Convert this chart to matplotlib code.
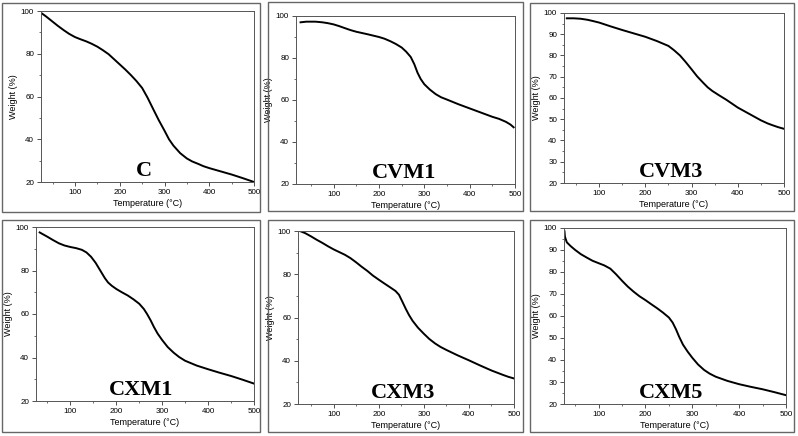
import matplotlib
matplotlib.use('Agg')
import matplotlib.pyplot as plt
from matplotlib.patches import Rectangle
from matplotlib.ticker import MultipleLocator

plt.rcParams['font.family'] = ['Liberation Sans', 'DejaVu Sans']

# sample names
names = ['C', 'CVM1', 'CVM3', 'CXM1', 'CXM3', 'CXM5']

# temperature (C) and weight (%)
c_t = [25, 35, 50, 62, 75, 87, 100, 112, 125, 137, 150, 162, 175, 187, 200, 212, 225, 237,
       250, 262, 275, 287, 300, 310, 320, 335, 350, 362, 375, 387, 400, 425, 450, 475, 500]
c_w = [99, 97.5, 95, 93, 91, 89.3, 87.8, 86.8, 85.8, 84.7, 83.3, 81.7, 79.8, 77.5, 75, 72.7, 70, 67.3,
       64, 59.5, 54, 49, 44, 40, 37, 33.5, 31, 29.6, 28.5, 27.4, 26.5, 25, 23.5, 21.8, 20]

cvm1_t = [27, 40, 60, 75, 87, 100, 112, 125, 137, 150, 175, 200, 212, 225, 237, 250, 260, 270,
          278, 285, 292, 300, 312, 325, 337, 350, 375, 400, 425, 450, 465, 480, 490, 497]
cvm1_w = [97, 97.3, 97.3, 97, 96.6, 96, 95.2, 94.2, 93.3, 92.5, 91.3, 90, 89.2, 88, 86.7, 85, 83, 80.5,
          77, 73, 70, 67.5, 65, 62.8, 61.3, 60.2, 58, 56, 54, 52, 51, 49.6, 48.3, 47]

cvm3_t = [30, 45, 60, 75, 87, 100, 125, 150, 175, 200, 225, 250, 262, 275, 287, 300, 312, 325,
          335, 345, 360, 375, 400, 425, 450, 465, 475, 487, 500]
cvm3_w = [97.5, 97.5, 97.3, 96.8, 96.2, 95.5, 93.7, 92, 90.4, 88.8, 86.8, 84.5, 82.5, 80, 77, 73.5, 70.2, 67.2,
          65, 63.3, 61.2, 59.2, 55.5, 52.5, 49.5, 48, 47.2, 46.3, 45.5]

cxm1_t = [33, 50, 62, 75, 87, 100, 112, 125, 135, 145, 155, 165, 175, 182, 190, 200, 212, 225, 237,
          250, 260, 267, 275, 282, 290, 300, 312, 325, 337, 350, 375, 400, 425, 450, 475, 500]
cxm1_w = [97.5, 95.5, 94, 92.5, 91.5, 90.8, 90.3, 89.5, 88.3, 86.3, 83.5, 80, 76.5, 74.5, 73, 71.5, 70, 68.5, 66.8,
          64.7, 62.3, 60, 57, 54, 51, 48, 44.8, 42.2, 40.2, 38.5, 36.3, 34.6, 33, 31.5, 29.8, 28]

cxm3_t = [25, 37, 50, 62, 75, 87, 100, 112, 125, 137, 150, 162, 175, 187, 200, 212, 225, 237, 245,
          252, 260, 267, 275, 287, 300, 312, 325, 337, 350, 375, 400, 425, 450, 465, 475, 487, 500]
cxm3_w = [100, 99, 97.5, 96, 94.5, 93, 91.5, 90.3, 89, 87.5, 85.5, 83.5, 81.5, 79.4, 77.5, 75.8, 74, 72.3, 70.5,
          67.5, 64, 61.2, 58.5, 55.3, 52.5, 50.1, 48, 46.4, 45, 42.5, 40.2, 37.8, 35.5, 34.3, 33.5, 32.6, 31.8]

cxm5_t = [27, 28, 32, 40, 50, 62, 75, 87, 100, 112, 125, 137, 150, 162, 175, 187, 200, 212, 225, 237,
          250, 258, 265, 272, 280, 290, 300, 312, 325, 337, 350, 375, 400, 425, 450, 475, 500]
cxm5_w = [98.5, 96, 93.5, 91.8, 90, 88.1, 86.5, 85.1, 84, 83, 81.5, 79, 76, 73.4, 71, 69, 67.2, 65.4, 63.5, 61.6,
          59.3, 57, 54, 50.5, 47, 43.8, 41, 38, 35.5, 33.8, 32.4, 30.5, 29, 27.8, 26.7, 25.4, 24]

temps = [c_t, cvm1_t, cvm3_t, cxm1_t, cxm3_t, cxm5_t]
weights = [c_w, cvm1_w, cvm3_w, cxm1_w, cxm3_w, cxm5_w]
x_left = [24, 17, 24, 25, 21, 26]
y_step = [20, 20, 10, 20, 20, 10]

W, H = 798, 436
fig = plt.figure(figsize=(W / 100, H / 100), dpi=100)

# axes boxes in pixels: left, right, top, bottom
boxes = [(41, 254, 11, 182), (296, 515, 16, 184), (564, 784, 13, 183),
         (36, 254, 227, 401), (298, 514, 231, 404), (564, 786, 228, 404)]
# panel frames in pixels
frames = [(2, 260, 3, 212), (268, 523, 2, 211), (530, 794, 3, 211),
          (2, 260, 220, 432), (268, 523, 220, 432), (530, 794, 220, 432)]

for l, r, t, b in frames:
    fig.patches.append(Rectangle((l / W, 1 - b / H), (r - l) / W, (b - t) / H,
                                 transform=fig.transFigure, fill=False,
                                 edgecolor='#666666', lw=1.0))

for i in range(6):
    l, r, t, b = boxes[i]
    ax = fig.add_axes([l / W, 1 - b / H, (r - l) / W, (b - t) / H])
    ax.plot(temps[i], weights[i], color='black', lw=1.4)
    ax.set_xlim(x_left[i], 500)
    ax.set_ylim(20, 100)
    ax.xaxis.set_major_locator(MultipleLocator(100))
    ax.xaxis.set_minor_locator(MultipleLocator(50))
    ax.yaxis.set_major_locator(MultipleLocator(y_step[i]))
    ax.yaxis.set_minor_locator(MultipleLocator(y_step[i] / 2))
    ax.tick_params(which='major', length=3, width=0.6, labelsize=5.8, pad=2, color='#333333')
    ax.tick_params(which='minor', length=1.5, width=0.5, color='#333333')
    for s in ax.spines.values():
        s.set_linewidth(0.7)
        s.set_color('#555555')
    ax.set_xlabel('Temperature (°C)', fontsize=6.5, labelpad=2)
    ax.set_ylabel('Weight (%)', fontsize=6.5, labelpad=2)
    ax.text(255, 20.3, names[i], ha='center', va='bottom', fontsize=16,
            fontweight='bold', family=['Liberation Serif', 'DejaVu Serif'])

fig.savefig('out.png', dpi=100)
